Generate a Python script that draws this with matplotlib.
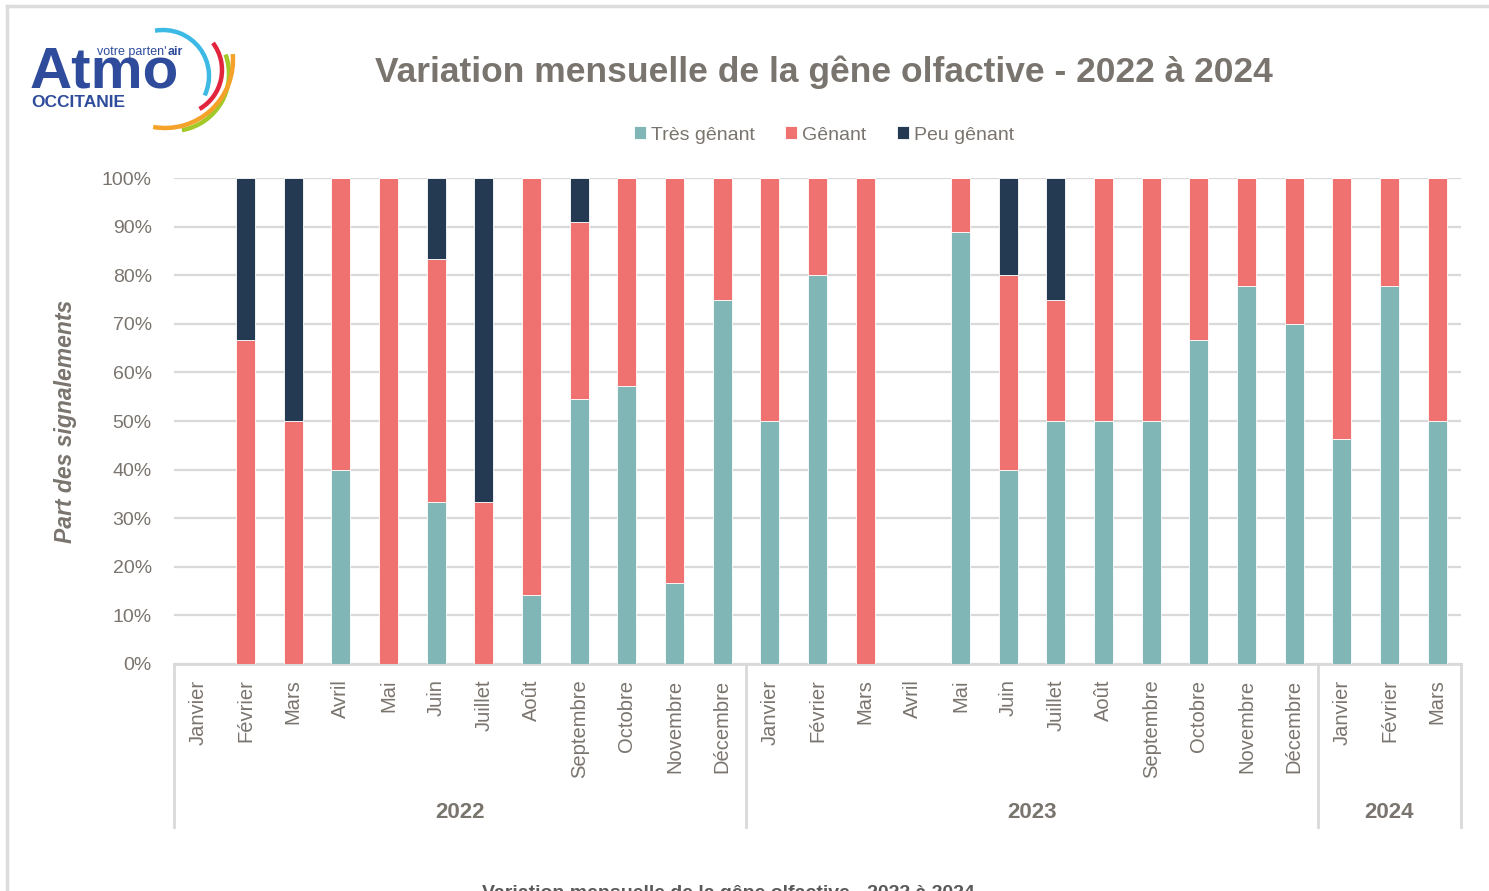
import matplotlib

matplotlib.use("Agg")
import matplotlib.pyplot as plt  # noqa: E402
from matplotlib.patches import Arc  # noqa: E402
from matplotlib.lines import Line2D  # noqa: E402
import numpy as np  # noqa: E402

plt.rcParams["font.family"] = ["Liberation Sans", "DejaVu Sans"]

TEAL = "#80B6B6"
SALMON = "#EF7270"
NAVY = "#243A52"
GREY_TXT = "#7A746E"
GRID = "#D9D9D9"

months = ["Janvier", "Février", "Mars", "Avril", "Mai", "Juin", "Juillet", "Août",
          "Septembre", "Octobre", "Novembre", "Décembre",
          "Janvier", "Février", "Mars", "Avril", "Mai", "Juin", "Juillet", "Août",
          "Septembre", "Octobre", "Novembre", "Décembre",
          "Janvier", "Février", "Mars"]
years = ["2022", "2023", "2024"]
year_sizes = [12, 12, 3]

# share of reports (%)
tres_genant = [0, 0, 0, 40, 0, 33.3, 0, 14.3, 54.5, 57.1, 16.7, 75,
               50, 80, 0, 0, 88.9, 40, 50, 50, 50, 66.7, 77.8, 70,
               46.2, 77.8, 50]
genant = [0, 66.7, 50, 60, 100, 50, 33.3, 85.7, 36.4, 42.9, 83.3, 25,
          50, 20, 100, 0, 11.1, 40, 25, 50, 50, 33.3, 22.2, 30,
          53.8, 22.2, 50]
peu_genant = [0, 33.3, 50, 0, 0, 16.7, 66.7, 0, 9.1, 0, 0, 0,
              0, 0, 0, 0, 0, 20, 25, 0, 0, 0, 0, 0,
              0, 0, 0]

W, H = 1489, 891
fig = plt.figure(figsize=(W / 100, H / 100), dpi=100)

# outer frame (top + left edges)
fig.add_artist(Line2D([7 / W, 7 / W], [0, 1 - 6 / H], color="#DCDCDC", lw=2.5))
fig.add_artist(Line2D([7 / W, 1], [1 - 6 / H, 1 - 6 / H], color="#DCDCDC", lw=2.5))

ax = fig.add_axes([174 / W, 1 - 664 / H, (1461 - 174) / W, (664 - 178) / H])
x = np.arange(len(months))
t = np.array(tres_genant)
g = np.array(genant)
p = np.array(peu_genant)
bw = 0.4
ax.bar(x, t, bw, color=TEAL, edgecolor="white", linewidth=0.6, label="Très gênant", zorder=3)
ax.bar(x, g, bw, bottom=t, color=SALMON, edgecolor="white", linewidth=0.6, label="Gênant", zorder=3)
ax.bar(x, p, bw, bottom=t + g, color=NAVY, edgecolor="white", linewidth=0.6, label="Peu gênant", zorder=3)

ax.set_xlim(-0.5, len(months) - 0.5)
ax.set_ylim(0, 100)
ax.set_yticks(range(0, 101, 10))
ax.set_yticklabels([f"{v}%" for v in range(0, 101, 10)], color=GREY_TXT, fontsize=14)
ax.tick_params(axis="y", length=0, pad=16)
ax.grid(axis="y", color=GRID, lw=1.6, zorder=0)
for s in ["top", "right", "left"]:
    ax.spines[s].set_visible(False)
ax.spines["bottom"].set_color(GRID)
ax.spines["bottom"].set_linewidth(2)
ax.set_xticks([])

for i, m in enumerate(months):
    ax.text(i, -3.2, m, rotation=90, ha="center", va="top", fontsize=14.5, color=GREY_TXT,
            clip_on=False)

# year groups and separators
start = 0
bounds = [-0.5]
for yr, n in zip(years, year_sizes):
    ax.text(start + (n - 1) / 2, -30.5, yr, ha="center", va="center", fontsize=16,
            fontweight="bold", color=GREY_TXT, clip_on=False)
    start += n
    bounds.append(start - 0.5)
for b in bounds:
    ax.add_line(Line2D([b, b], [0, -33.5], color=GRID, lw=2, clip_on=False))

ax.set_ylabel("Part des signalements", fontsize=16.5, fontweight="bold", style="italic",
              color=GREY_TXT, labelpad=18)

fig.text(824 / W, 1 - 72 / H, "Variation mensuelle de la gêne olfactive - 2022 à 2024",
         ha="center", va="center", fontsize=25.5, fontweight="bold", color=GREY_TXT)
fig.text(728 / W, 1 - 893 / H, "Variation mensuelle de la gêne olfactive - 2022 à 2024",
         ha="center", va="center", fontsize=14, fontweight="bold", color="#595959")

fig.legend(loc="center", bbox_to_anchor=(824 / W, 1 - 135 / H), ncol=3, frameon=False,
           fontsize=14, handlelength=0.6, handleheight=0.6, handletextpad=0.25,
           columnspacing=1.6, labelcolor=GREY_TXT)

# logo
lax = fig.add_axes([0, 1 - 140 / H, 250 / W, 140 / H])
lax.set_xlim(0, 250)
lax.set_ylim(-140, 0)
lax.set_aspect("equal")
lax.axis("off")
BLUE = "#2F4C9C"
lax.text(30, -88, "Atmo", fontsize=42, fontweight="bold", color=BLUE, va="baseline")
lax.text(31, -107, "OCCITANIE", fontsize=12.5, fontweight="bold", color=BLUE, va="baseline")
lax.text(97, -55, "votre parten'", fontsize=9, color=BLUE, va="baseline")
lax.text(168, -55, "air", fontsize=9, color=BLUE, va="baseline", fontweight="bold")
for (cx, cy, r, a1, a2, col) in [(163, -76, 46, -25, 100, "#3DB9E6"),
                                 (177, -70, 45, -60, 37, "#E2253D"),
                                 (172, -74, 57, -80, 20, "#A2C928"),
                                 (165, -60, 68, -100, 5, "#F5A22A")]:
    lax.add_patch(Arc((cx, cy), 2 * r, 2 * r, theta1=a1, theta2=a2, color=col, lw=3.2))

fig.savefig("out.png", dpi=100)
